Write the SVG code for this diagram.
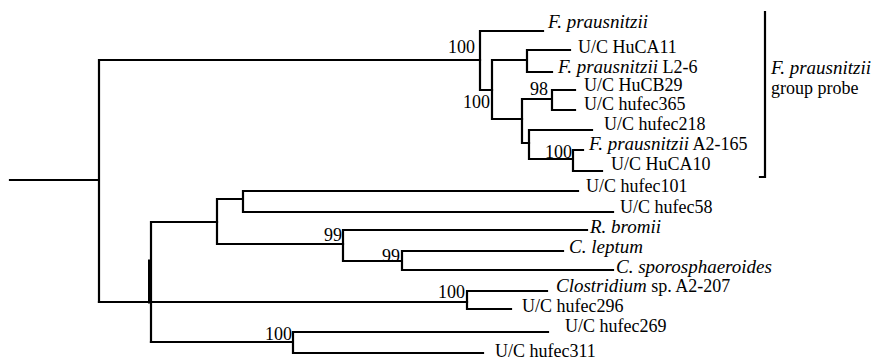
<svg xmlns="http://www.w3.org/2000/svg" width="876" height="360" viewBox="0 0 876 360">
<style>
.br{fill:none;stroke:#000;stroke-width:2.2;stroke-linecap:square;stroke-linejoin:miter}
.t{font-family:"Liberation Serif","Times New Roman",serif;font-size:18px;fill:#000}
.i{font-style:italic;font-size:19px}
.bs{font-family:"Liberation Serif","Times New Roman",serif;font-size:18px;fill:#000;text-anchor:end}
</style>
<rect width="876" height="360" fill="#fff"/>
<g id="connectors">
<path class="br" d="M10 180H99M99 60V302M99 60H480"/>
<path class="br" d="M543 31H480V90H492"/>
<path class="br" d="M492 60V119H522M492 60H527M570 50H527V72H552"/>
<path class="br" d="M522 99V143H529M522 99H552M575 90H552V110H575"/>
<path class="br" d="M592 130H529V159H573M583 150H573V171H602"/>
<path class="br" d="M99 302H467M151 222V342M151 222H217"/>
<path class="br" style="stroke-width:3" d="M149.5 261V302"/>
<path class="br" d="M217 199V244H343M217 199H243M578 191H243V212H613"/>
<path class="br" d="M587 230H343V261H402M563 251H402V270H613"/>
<path class="br" d="M547 291H467V309H511"/>
<path class="br" d="M151 342H293M548 332H293V353H483"/>
</g>
<g id="leaf-fp"><text class="t" x="548" y="28"><tspan class="i">F. prausnitzii</tspan></text></g>
<g id="leaf-huca11"><text class="t" x="578" y="53">U/C HuCA11</text></g>
<g id="leaf-fp-l26"><text class="t" x="558" y="73"><tspan class="i">F. prausnitzii</tspan> L2-6</text></g>
<g id="leaf-hucb29"><text class="t" x="584" y="91">U/C HuCB29</text></g>
<g id="leaf-hufec365"><text class="t" x="584" y="110">U/C hufec365</text></g>
<g id="leaf-hufec218"><text class="t" x="604" y="130">U/C hufec218</text></g>
<g id="leaf-fp-a2165"><text class="t" x="589" y="150"><tspan class="i">F. prausnitzii</tspan> A2-165</text></g>
<g id="leaf-huca10"><text class="t" x="611" y="170">U/C HuCA10</text></g>
<g id="leaf-hufec101"><text class="t" x="586" y="192">U/C hufec101</text></g>
<g id="leaf-hufec58"><text class="t" x="620" y="213">U/C hufec58</text></g>
<g id="leaf-rbromii"><text class="t" x="590" y="233"><tspan class="i">R. bromii</tspan></text></g>
<g id="leaf-cleptum"><text class="t" x="569" y="253"><tspan class="i">C. leptum</tspan></text></g>
<g id="leaf-cspor"><text class="t" x="616" y="273"><tspan class="i">C. sporosphaeroides</tspan></text></g>
<g id="leaf-clos"><text class="t" x="556" y="292"><tspan class="i">Clostridium</tspan> sp. A2-207</text></g>
<g id="leaf-hufec296"><text class="t" x="522" y="312">U/C hufec296</text></g>
<g id="leaf-hufec269"><text class="t" x="565" y="332">U/C hufec269</text></g>
<g id="leaf-hufec311"><text class="t" x="495" y="357">U/C hufec311</text></g>
<g id="bootstrap">
<text class="bs" x="475" y="53">100</text>
<text class="bs" x="490" y="108">100</text>
<text class="bs" x="548" y="95">98</text>
<text class="bs" x="572" y="158">100</text>
<text class="bs" x="342" y="241">99</text>
<text class="bs" x="400" y="262">99</text>
<text class="bs" x="465" y="298">100</text>
<text class="bs" x="292" y="340">100</text>
</g>
<g id="group-probe">
<path class="br" d="M760 177H765V12"/>
<text class="t" x="771" y="74"><tspan class="i">F. prausnitzii</tspan></text>
<text class="t" x="771" y="94">group probe</text>
</g>
</svg>
